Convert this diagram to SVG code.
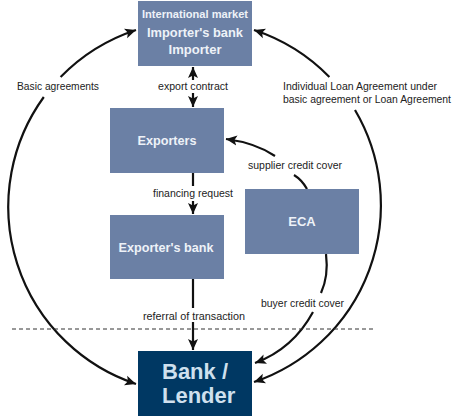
<svg xmlns="http://www.w3.org/2000/svg" width="452" height="416" viewBox="0 0 452 416">
<defs>
<marker id="ah" markerUnits="userSpaceOnUse" markerWidth="12" markerHeight="12" viewBox="0 0 12 12" refX="11" refY="6" orient="auto">
<path d="M0,1 L11,6 L0,11 L2.5,6 Z" fill="#111"/>
</marker>
<style>
.box{fill:#6b80a5}
.bt{font-family:"Liberation Sans",Arial,sans-serif;font-weight:bold;fill:#eef2f8;text-anchor:middle}
.lb{font-family:"Liberation Sans",Arial,sans-serif;font-size:10.5px;fill:#222}
.c{fill:none;stroke:#111;stroke-width:2.2}
.bg{fill:#fff}
</style>
</defs>
<rect width="452" height="416" fill="#fff"/>
<g id="connectors">
<path class="c" d="M60.6,77 A187,187 0 0 1 136,30" marker-end="url(#ah)"/>
<path class="c" d="M43.8,97 A187,187 0 0 0 136,384" marker-end="url(#ah)"/>
<path class="c" d="M329.4,77 A187,187 0 0 0 254,30" marker-end="url(#ah)"/>
<path class="c" d="M355,110 A187,187 0 0 1 254,382" marker-end="url(#ah)"/>
<path class="c" d="M193,80 L193,67" marker-end="url(#ah)"/>
<path class="c" d="M193,93 L193,107" marker-end="url(#ah)"/>
<path class="c" d="M193,173 L193,186"/>
<path class="c" d="M193,201 L193,214" marker-end="url(#ah)"/>
<path class="c" d="M193,279 L193,308"/>
<path class="c" d="M193,322 L193,350" marker-end="url(#ah)"/>
<path class="c" d="M307,189 Q302,180 294,175"/>
<path class="c" d="M275,156 Q256,143 226,139" marker-end="url(#ah)"/>
<path class="c" d="M326,254 C328,270 326,282 321,293"/>
<path class="c" d="M313,312 C300,336 282,353 255,363" marker-end="url(#ah)"/>
<line x1="12" y1="329" x2="375" y2="329" stroke="#333" stroke-width="1" stroke-dasharray="4,3"/>
</g>
<g id="labels">
<rect class="bg" x="16" y="79" width="85" height="16"/>
<text class="lb" x="17" y="90" textLength="82" lengthAdjust="spacingAndGlyphs">Basic agreements</text>
<text class="lb" x="193" y="90" text-anchor="middle" textLength="70" lengthAdjust="spacingAndGlyphs">export contract</text>
<rect class="bg" x="281" y="79" width="171" height="29"/>
<text class="lb" x="283" y="90" textLength="154" lengthAdjust="spacingAndGlyphs">Individual Loan Agreement under</text>
<text class="lb" x="283" y="103" textLength="168" lengthAdjust="spacingAndGlyphs">basic agreement or Loan Agreement</text>
<text class="lb" x="248" y="169" textLength="94" lengthAdjust="spacingAndGlyphs">supplier credit cover</text>
<text class="lb" x="193" y="197" text-anchor="middle" textLength="80" lengthAdjust="spacingAndGlyphs">financing request</text>
<text class="lb" x="261" y="307" textLength="83" lengthAdjust="spacingAndGlyphs">buyer credit cover</text>
<text class="lb" x="194" y="320" text-anchor="middle" textLength="102" lengthAdjust="spacingAndGlyphs">referral of transaction</text>
</g>
<g id="node-importer">
<rect class="box" x="138" y="1" width="114" height="65"/>
<text class="bt" x="195" y="18" font-size="11" textLength="106" lengthAdjust="spacingAndGlyphs">International market</text>
<text class="bt" x="195" y="37" font-size="13" textLength="96" lengthAdjust="spacingAndGlyphs">Importer's bank</text>
<text class="bt" x="195" y="54" font-size="13" textLength="53" lengthAdjust="spacingAndGlyphs">Importer</text>
</g>
<g id="node-exporters">
<rect class="box" x="110" y="108" width="114" height="65"/>
<text class="bt" x="167" y="145" font-size="13" textLength="59" lengthAdjust="spacingAndGlyphs">Exporters</text>
</g>
<g id="node-exporters-bank">
<rect class="box" x="110" y="215" width="114" height="64"/>
<text class="bt" x="166" y="252" font-size="13" textLength="95" lengthAdjust="spacingAndGlyphs">Exporter's bank</text>
</g>
<g id="node-eca">
<rect class="box" x="245" y="189" width="114" height="65"/>
<text class="bt" x="302" y="226" font-size="13">ECA</text>
</g>
<g id="node-lender">
<rect x="138" y="351" width="114" height="65" fill="#003863"/>
<text class="bt" x="162" y="379" font-size="22" style="text-anchor:start;fill:#cfe0ee">Bank /</text>
<text class="bt" x="162" y="403" font-size="22" style="text-anchor:start;fill:#cfe0ee">Lender</text>
</g>
</svg>
